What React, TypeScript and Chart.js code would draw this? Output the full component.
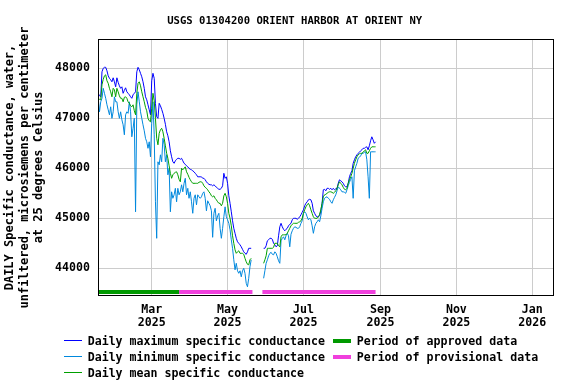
import React, { useEffect, useRef } from 'react';
import { Chart, registerables } from 'chart.js';

Chart.register(...registerables);

// ---------- data ----------
const START_DATE = '2025-01-17'; // index 0 of the daily arrays
const DAY_MS = 86400000;
const dayIndex = (iso: string) => (Date.parse(iso) - Date.parse(START_DATE)) / DAY_MS;

const TITLE = 'USGS 01304200 ORIENT HARBOR AT ORIENT NY';
const Y_TITLE = [
  'DAILY Specific conductance, water,',
  'unfiltered, microsiemens per centimeter',
  'at 25 degrees Celsius',
];

// Daily maximum specific conductance (Jan 17 .. Aug 28 2025, null = no data)
const maxValues: (number | null)[] = [
  47500, 47450, 47430, 47930, 48000, 48020, 48020, 47950, 47850, 47800,
  47770, 47730, 47810, 47730, 47630, 47810, 47720, 47650, 47600, 47630,
  47500, 47560, 47610, 47530, 47500, 47470, 47430, 47400, 47470, 47500,
  47530, 47930, 48020, 47970, 47900, 47830, 47730, 47600, 47430, 47370,
  47270, 47170, 47070, 47750, 47900, 47800, 47300, 47030, 47000, 47300,
  47250, 47180, 47100, 47000, 46880, 46730, 46650, 46530, 46350, 46230,
  46130, 46100, 46150, 46180, 46200, 46200, 46180, 46200, 46150, 46100,
  46080, 46050, 46030, 46000, 45980, 45970, 45950, 45930, 45900, 45870,
  45830, 45830, 45830, 45830, 45800, 45800, 45770, 45730, 45700, 45680,
  45670, 45670, 45650, 45670, 45650, 45620, 45600, 45580, 45580, 45600,
  45650, 45900, 45800, 45830, 45700, 45450, 45300, 45130, 44950, 44800,
  44700, 44600, 44530, 44500, 44470, 44430, 44380, 44330, 44300, 44280,
  44330, 44400, 44400, 44400,
  null, null, null, null, null, null, null, null, null,
  44400, 44400, 44450, 44550, 44570, 44600, 44600,
  44580, 44500, 44470, 44430, 44450, 44650, 44830, 44900, 44830, 44780,
  44750, 44780, 44800, 44850, 44880, 44900, 44970, 45000, 45000, 45000,
  44980, 45000, 45030, 45070, 45120, 45170, 45250, 45300, 45330, 45370,
  45380, 45370, 45300, 45150, 45100, 45050, 45030, 45030, 45050, 45150,
  45300, 45570, 45580, 45550, 45600, 45600, 45580, 45600, 45570, 45600,
  45570, 45590, 45600, 45700, 45770, 45750, 45730, 45700, 45650, 45630,
  45630, 45700, 45830, 45900, 45950, 46100, 46170, 46230, 46270, 46300,
  46320, 46350, 46370, 46400, 46400, 46420, 46430, 46370, 46450, 46550,
  46630, 46570, 46500, 46530,
];

// Daily minimum specific conductance
const minValues: (number | null)[] = [
  47400, 47130, 47330, 47400, 47600, 47500, 47400, 47270, 47170, 47070,
  47230, 47000, 47130, 47430, 47330, 47330, 47130, 47000, 47130, 46970,
  46870, 46670, 47070, 47130, 47100, 47330, 47130, 46630, 46800, 47000,
  45130, 47270, 47530, 47330, 47130, 47000, 46870, 46750, 46600, 46530,
  46400, 46530, 46230, 46900, 47330, 46670, 45330, 44600, 46130, 46070,
  46270, 46130, 46600, 46470, 46130, 46270, 45870, 46000, 45130, 45530,
  45400, 45470, 45600, 45330, 45600, 45470, 45530, 45670, 45530, 45700,
  45800, 45470, 45600, 45400, 45530, 45330, 45100, 45400, 45470, 45270,
  45470, 45430, 45400, 45430, 45500, 45530, 45400, 45150, 45350, 45300,
  45250, 45150, 44620, 45100, 45200, 44950, 45050, 45100, 44800, 44600,
  44800, 45030, 45230, 45030, 44970, 44900, 44770, 44570, 44400, 44170,
  43970, 44100, 43950, 43900, 43950, 43830, 43950, 44000, 43900, 43700,
  43630, 43800, 44030, 44170,
  null, null, null, null, null, null, null, null, null,
  43800, 43950, 44100, 44170, 44250, 44300, 44320,
  44280, 44270, 44330, 44300, 44230, 44150, 44100, 44550, 44600, 44630,
  44570, 44650, 44700, 44650, 44430, 44680, 44750, 44800, 44830, 44820,
  44800, 44800, 44830, 44900, 44950, 45100, 45130, 45100, 45030, 44970,
  45000, 44970, 44850, 44700, 44830, 44900, 44930, 44970, 44930, 45050,
  45200, 45330, 45400, 45420, 45430, 45400, 45380, 45330, 45300, 45370,
  45420, 45470, 45550, 45630, 45600, 45570, 45530, 45530, 45520, 45500,
  45570, 45650, 45720, 45780, 45830, 45400, 45950, 46030, 46100, 46200,
  46220, 46250, 46300, 46300, 46320, 46330, 46170, 45830, 45400, 46330,
  46330, 46330, 46330, 46330,
];

// Daily mean specific conductance
const meanValues: (number | null)[] = [
  47400, 47380, 47370, 47670, 47780, 47850, 47870, 47750, 47700, 47600,
  47530, 47430, 47600, 47570, 47430, 47600, 47530, 47450, 47400, 47400,
  47330, 47420, 47430, 47400, 47330, 47300, 47250, 47230, 47270, 47150,
  47070, 47500, 47700, 47730, 47650, 47530, 47430, 47330, 47220, 47150,
  47000, 46950, 46930, 47200, 47500, 47350, 47000, 46600, 46470, 46700,
  46770, 46800, 46730, 46600, 46450, 46300, 46200, 46050, 45900, 45800,
  45870, 45900, 45920, 45930, 45870, 45780, 45730, 46000, 45970, 46000,
  46030, 45930, 45880, 45820, 45770, 45730, 45700, 45700, 45700, 45700,
  45700, 45720, 45730, 45730, 45700, 45650, 45620, 45600, 45570, 45530,
  45500, 45450, 45430, 45450, 45400, 45370, 45330, 45300, 45300, 45250,
  45300, 45450, 45500, 45430, 45300, 45100, 45000, 44850, 44650, 44500,
  44370, 44300, 44330, 44350, 44300, 44300, 44300, 44280, 44200, 44130,
  44080, 44070, 44170, 44200,
  null, null, null, null, null, null, null, null, null,
  44100, 44170, 44250, 44400, 44400, 44400, 44400,
  44400, 44420, 44500, 44500, 44500, 44450, 44430, 44630, 44670, 44670,
  44670, 44670, 44700, 44750, 44800, 44850, 44880, 44900, 44900, 44900,
  44900, 44920, 44930, 44950, 45000, 45100, 45170, 45230, 45270, 45300,
  45250, 45170, 45100, 45030, 45000, 45000, 45000, 45030, 45080, 45170,
  45300, 45430, 45470, 45480, 45500, 45520, 45530, 45530, 45520, 45500,
  45520, 45550, 45600, 45670, 45730, 45700, 45670, 45620, 45580, 45570,
  45600, 45700, 45770, 45830, 45900, 46000, 46100, 46170, 46230, 46270,
  46290, 46300, 46300, 46320, 46350, 46370, 46300, 46300, 46350, 46400,
  46430, 46430, 46430, 46430,
];

const approvedPeriods: [string, string][] = [['2025-01-17', '2025-03-23']];
const provisionalPeriods: [string, string][] = [
  ['2025-03-23', '2025-05-21'],
  ['2025-05-29', '2025-08-28'],
];

const xTickDates = ['2025-03-01', '2025-05-01', '2025-07-01', '2025-09-01', '2025-11-01', '2026-01-01'];
const xTickMonths = ['Mar', 'May', 'Jul', 'Sep', 'Nov', 'Jan'];
const xTickYears = ['2025', '2025', '2025', '2025', '2025', '2026'];
const yTickValues = [44000, 45000, 46000, 47000, 48000];

const X_MIN_DAY = -0.2;
const X_MAX_DAY = 366.5;
const Y_MIN = 43446;
const Y_MAX = 48586;
const PERIOD_LEVEL = 43526;

// ---------- styles ----------
const MONO = '"DejaVu Sans Mono", "Liberation Mono", monospace';
const C_MAX = '#0000ff';
const C_MIN = '#0088dd';
const C_MEAN = '#00a000';
const C_APPROVED = '#009900';
const C_PROVISIONAL = '#f040dd';

const toPoints = (vals: (number | null)[]) => vals.map((v, i) => ({ x: i, y: v }));
const periodPoints = (periods: [string, string][]) => {
  const out: { x: number; y: number | null }[] = [];
  periods.forEach(([a, b], k) => {
    if (k > 0) out.push({ x: (out[out.length - 1].x + dayIndex(a)) / 2, y: null });
    out.push({ x: dayIndex(a), y: PERIOD_LEVEL }, { x: dayIndex(b), y: PERIOD_LEVEL });
  });
  return out;
};

const framePlugin = {
  id: 'frame',
  afterDatasetsDraw(chart: any) {
    const { ctx, chartArea } = chart;
    const { left, top, right, bottom } = chartArea;
    ctx.save();
    ctx.strokeStyle = '#000';
    ctx.lineWidth = 1;
    ctx.strokeRect(Math.round(left) + 0.5, Math.round(top) + 0.5, Math.round(right - left) - 1, Math.round(bottom - top) - 1);
    ctx.restore();
  },
};

export default function App() {
  const canvasRef = useRef<HTMLCanvasElement>(null);

  useEffect(() => {
    const canvas = canvasRef.current;
    if (!canvas) return;
    const lineDs = (label: string, vals: (number | null)[], color: string, order: number) => ({
      label,
      data: toPoints(vals),
      borderColor: color,
      backgroundColor: color,
      borderWidth: 1,
      pointRadius: 0,
      tension: 0,
      spanGaps: false,
      order,
    });
    const barDs = (label: string, periods: [string, string][], color: string) => ({
      label,
      data: periodPoints(periods),
      borderColor: color,
      backgroundColor: color,
      borderWidth: 4,
      borderCapStyle: 'butt',
      pointRadius: 0,
      spanGaps: false,
      order: 0,
    });
    const tickFont = { family: MONO, size: 11.6, weight: 'bold' as const, lineHeight: 13 / 11.6 };

    const chart = new Chart(canvas, {
      type: 'line',
      data: {
        datasets: [
          lineDs('Daily maximum specific conductance', maxValues, C_MAX, 3),
          lineDs('Daily minimum specific conductance', minValues, C_MIN, 2),
          lineDs('Daily mean specific conductance', meanValues, C_MEAN, 1),
          barDs('Period of approved data', approvedPeriods, C_APPROVED) as any,
          barDs('Period of provisional data', provisionalPeriods, C_PROVISIONAL) as any,
        ],
      },
      options: {
        animation: false,
        responsive: false,
        devicePixelRatio: 1,
        layout: { padding: { top: 39, right: 22, left: 0, bottom: 0 } },
        plugins: {
          legend: { display: false },
          title: { display: false },
          tooltip: { enabled: false },
        },
        scales: {
          x: {
            type: 'linear',
            min: X_MIN_DAY,
            max: X_MAX_DAY,
            border: { display: false },
            grid: { color: '#cccccc', lineWidth: 1, drawTicks: false },
            afterBuildTicks: (s: any) => {
              s.ticks = xTickDates.map((d) => ({ value: dayIndex(d) }));
            },
            afterFit: (s: any) => {
              s.height = 88;
            },
            ticks: {
              autoSkip: false,
              maxRotation: 0,
              minRotation: 0,
              padding: 7.5,
              color: '#000',
              font: tickFont,
              callback: (_v: any, i: number) => [xTickMonths[i], xTickYears[i]],
            },
          },
          y: {
            type: 'linear',
            min: Y_MIN,
            max: Y_MAX,
            border: { display: false },
            grid: { color: '#cccccc', lineWidth: 1, drawTicks: false },
            afterBuildTicks: (s: any) => {
              s.ticks = yTickValues.map((v) => ({ value: v }));
            },
            afterFit: (s: any) => {
              s.width = 98;
            },
            ticks: {
              padding: 8,
              color: '#000',
              font: tickFont,
              callback: (v: any) => String(v),
            },
            title: {
              display: true,
              text: Y_TITLE,
              color: '#000',
              font: { family: MONO, size: 12, weight: 'bold', lineHeight: 14.5 / 12 },
              padding: { top: 3, bottom: 0 },
            },
          },
        },
      } as any,
      plugins: [framePlugin],
    });
    return () => chart.destroy();
  }, []);

  const legendText: React.CSSProperties = {
    position: 'absolute',
    fontFamily: MONO,
    fontWeight: 'bold',
    fontSize: '11.6px',
    lineHeight: '14px',
    color: '#000',
    whiteSpace: 'pre',
  };
  const rowY = [341, 357, 373];
  const leftItems = [
    { label: 'Daily maximum specific conductance', color: C_MAX },
    { label: 'Daily minimum specific conductance', color: C_MIN },
    { label: 'Daily mean specific conductance', color: C_MEAN },
  ];
  const rightItems = [
    { label: 'Period of approved data', color: C_APPROVED },
    { label: 'Period of provisional data', color: C_PROVISIONAL },
  ];

  return (
    <div style={{ position: 'absolute', left: 0, top: 0, width: 576, height: 384, background: '#fff', overflow: 'hidden' }}>
      <canvas ref={canvasRef} width={576} height={384} style={{ position: 'absolute', left: 0, top: 0, width: 576, height: 384 }} />
      <div
        style={{
          position: 'absolute',
          left: 0,
          top: 13,
          width: 589.4,
          textAlign: 'center',
          fontFamily: MONO,
          fontWeight: 'bold',
          fontSize: '10.6px',
          lineHeight: '14px',
          color: '#000',
          whiteSpace: 'pre',
        }}
      >
        {TITLE}
      </div>
      {leftItems.map((it, i) => (
        <React.Fragment key={it.label}>
          <div style={{ position: 'absolute', left: 64, top: rowY[i] - 1, width: 18, height: 0, borderTop: `1px solid ${it.color}` }} />
          <div style={{ ...legendText, left: 87.7, top: rowY[i] - 7 }}>{it.label}</div>
        </React.Fragment>
      ))}
      {rightItems.map((it, i) => (
        <React.Fragment key={it.label}>
          <div style={{ position: 'absolute', left: 333, top: rowY[i] - 2, width: 18, height: 4, background: it.color }} />
          <div style={{ ...legendText, left: 356.7, top: rowY[i] - 7 }}>{it.label}</div>
        </React.Fragment>
      ))}
    </div>
  );
}
